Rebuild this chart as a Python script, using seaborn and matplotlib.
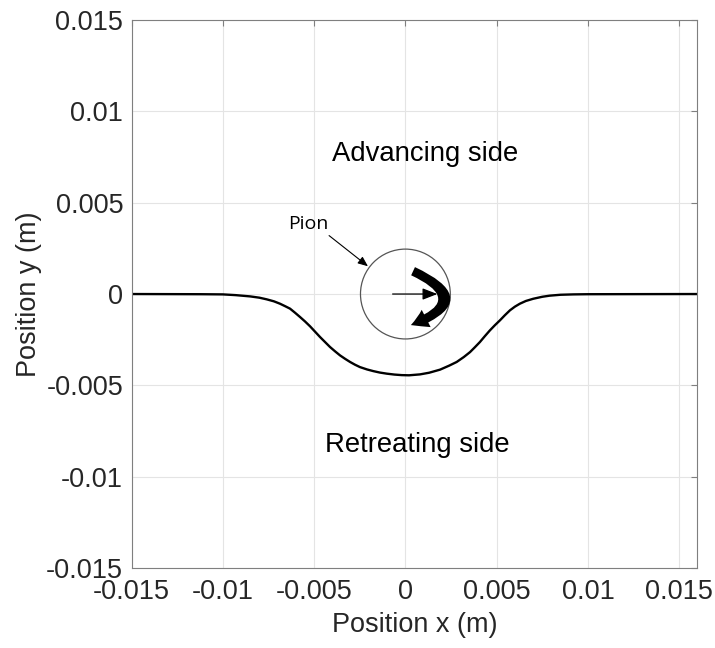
import seaborn as sns
import numpy as np
import matplotlib.pyplot as plt
from matplotlib.patches import Circle, FancyArrowPatch

# trace of the tool path
curve_x = [-0.015, -0.0112, -0.0100, -0.0093, -0.0085, -0.0080, -0.0076, -0.0072,
           -0.00687, -0.0066, -0.00632, -0.00605, -0.00577, -0.0055, -0.00522, -0.00495,
           -0.00468, -0.0044, -0.00413, -0.00385, -0.00358, -0.0033, -0.00303, -0.00276,
           -0.00249, -0.0021, -0.00176, -0.0014, -0.00102, -0.0006, -0.0002, 0.0002,
           0.0008, 0.0013, 0.0019, 0.0024, 0.00281, 0.0032, 0.00354, 0.0038,
           0.00408, 0.00435, 0.00463, 0.0049, 0.00518, 0.00545, 0.00573, 0.006,
           0.00627, 0.0066, 0.0070, 0.0075, 0.0079, 0.0085, 0.0092, 0.0100, 0.016]
curve_y = [0.0, -0.00001, -0.00002, -0.00006, -0.00013, -0.0002, -0.00029, -0.0004,
           -0.00053, -0.00066, -0.0008, -0.00102, -0.00126, -0.0015, -0.00177, -0.00206,
           -0.00235, -0.00263, -0.0029, -0.00314, -0.00336, -0.00355, -0.00372, -0.00387,
           -0.004, -0.00413, -0.00422, -0.0043, -0.00436, -0.00441, -0.00444, -0.00445,
           -0.0044, -0.00431, -0.00414, -0.00392, -0.00372, -0.00345, -0.00318, -0.00292,
           -0.00263, -0.00231, -0.00199, -0.00171, -0.00144, -0.00116, -0.00089, -0.00069,
           -0.00053, -0.00038, -0.00026, -0.00015, -0.00009, -0.00004, -0.00002, -0.00001, 0.0]

pin_center = (0.0, 0.0)
pin_radius = 0.00246

x_ticks = [-0.015, -0.01, -0.005, 0, 0.005, 0.01, 0.015]
x_labels = ['-0.015', '-0.01', '-0.005', '0', '0.005', '0.01', '0.015']
y_ticks = [-0.015, -0.01, -0.005, 0, 0.005, 0.01, 0.015]
y_labels = ['-0.015', '-0.01', '-0.005', '0', '0.005', '0.01', '0.015']

sns.set_style("white")
plt.rcParams['font.family'] = ['Liberation Sans', 'DejaVu Sans']

fig = plt.figure(figsize=(7.15, 6.48), dpi=100)
ax = fig.add_axes([0.184, 0.1235, 0.7915, 0.8455])

sns.lineplot(x=curve_x, y=curve_y, color='black', linewidth=1.7, ax=ax,
             sort=False, estimator=None)

ax.set_xlim(-0.015, 0.016)
ax.set_ylim(-0.015, 0.015)
ax.set_xticks(x_ticks)
ax.set_xticklabels(x_labels)
ax.set_yticks(y_ticks)
ax.set_yticklabels(y_labels)
ax.grid(True, color='#e4e4e4', linewidth=0.8)
ax.set_axisbelow(True)
ax.tick_params(axis='both', direction='in', length=4, width=0.8, color='#7f7f7f',
               labelsize=19.5, labelcolor='#262626', top=True, right=True)
ax.tick_params(axis='x', pad=8)
ax.tick_params(axis='y', pad=6)
for s in ax.spines.values():
    s.set_color('#7f7f7f')
    s.set_linewidth(0.8)
ax.set_xlabel('Position x (m)', fontsize=19.5, color='#262626', labelpad=5)
ax.set_ylabel('Position y (m)', fontsize=19.5, color='#262626', labelpad=3)

# pin circle and arrows
ax.add_patch(Circle(pin_center, pin_radius, facecolor='none', edgecolor='#555555', linewidth=0.9))
ax.add_patch(FancyArrowPatch((-0.0007, 0.0), (0.00175, 0.0),
                             arrowstyle='-|>,head_length=9,head_width=3.5',
                             mutation_scale=1, color='black', linewidth=0.9,
                             shrinkA=0, shrinkB=0))
ax.add_patch(FancyArrowPatch((0.00042, 0.00125), (0.0003, -0.0017),
                             connectionstyle='arc3,rad=-1.2',
                             arrowstyle='simple,head_length=12,head_width=14,tail_width=6.5',
                             mutation_scale=1, color='black', linewidth=0,
                             shrinkA=0, shrinkB=0))
ax.add_patch(FancyArrowPatch((-0.00418, 0.0032), (-0.00205, 0.00152),
                             arrowstyle='-|>,head_length=6,head_width=2.5',
                             mutation_scale=1, color='black', linewidth=0.8,
                             shrinkA=0, shrinkB=0))

ax.text(-0.00533, 0.00357, 'Pion', fontsize=14, family=['Open Sans', 'DejaVu Sans'],
        ha='center', va='baseline', color='black')
ax.text(0.00107, 0.00727, 'Advancing side', fontsize=19.8, ha='center', va='baseline',
        color='black')
ax.text(0.00063, -0.00864, 'Retreating side', fontsize=19.8, ha='center', va='baseline',
        color='black')

fig.savefig('out.png', dpi=100)
